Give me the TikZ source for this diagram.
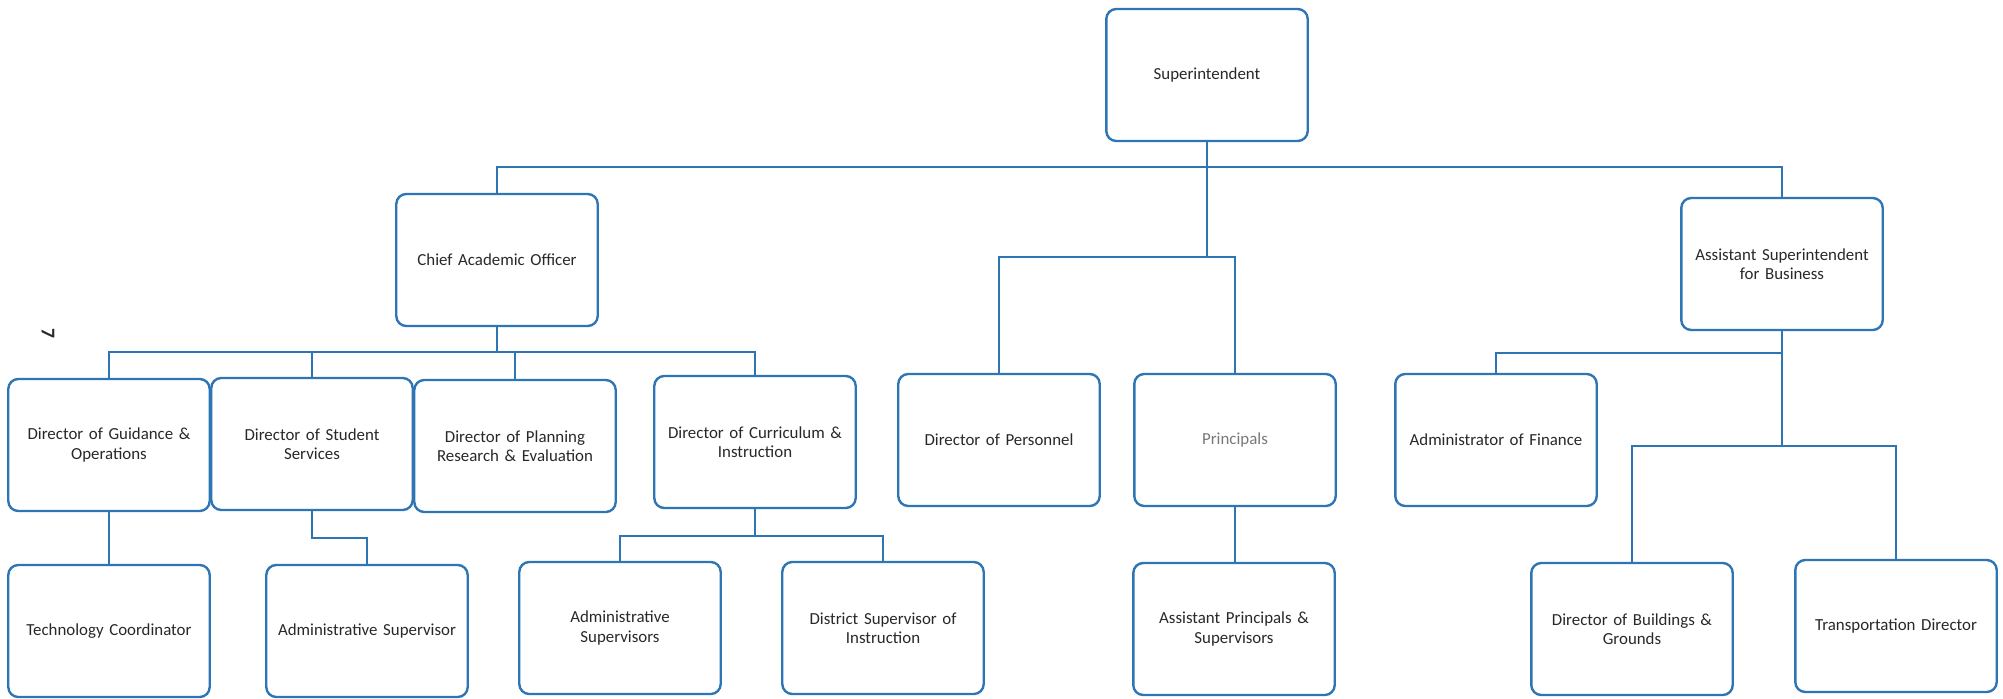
\documentclass[tikz,border=0pt]{standalone}
\usepackage{fontspec}
\setmainfont{Carlito}
\usepackage{tikz}

\definecolor{lineblue}{RGB}{46,117,182}
\definecolor{textgray}{RGB}{40,40,40}
\definecolor{lightgray}{RGB}{120,120,120}

\tikzset{
	post/.style={rectangle, rounded corners=2.5mm, draw=lineblue, line width=1.7pt,
		minimum width=4.95cm, minimum height=3.3cm, align=center, text width=4.8cm,
		text=textgray, font=\fontsize{12}{13.8}\selectfont},
	link/.style={draw=lineblue, line width=1.6pt}
}

\begin{document}
\begin{tikzpicture}[
			x=0.025cm, y=-0.025cm
			]
			\useasboundingbox (0,0) rectangle (2003,698);
			
			% Top level
			\node[post] (super) at (1207,75) {Superintendent};
			
			% Second level
			\node[post] (cao) at (497,260) {Chief Academic Officer};
			\node[post] (asb) at (1782,264) {Assistant Superintendent\\for Business};
			
			% Third level
			\node[post] (guid) at (109,445) {Director of Guidance \&\\Operations};
			\node[post] (stud) at (312,444) {Director of Student\\Services};
			\node[post] (plan) at (515,446) {Director of Planning\\Research \& Evaluation};
			\node[post] (curr) at (755,442) {Director of Curriculum \&\\Instruction};
			\node[post] (pers) at (999,440) {Director of Personnel};
			\node[post, text=lightgray] (prin) at (1235,440) {Principals};
			\node[post] (fin) at (1496,440) {Administrator of Finance};
			
			% Fourth level
			\node[post] (tech) at (109,631) {Technology Coordinator};
			\node[post] (adms) at (367,631) {Administrative Supervisor};
			\node[post] (admss) at (620,628) {Administrative\\Supervisors};
			\node[post] (dist) at (883,628) {District Supervisor of\\Instruction};
			\node[post] (asstp) at (1234,629) {Assistant Principals \&\\Supervisors};
			\node[post] (build) at (1632,629) {Director of Buildings \&\\Grounds};
			\node[post] (trans) at (1896,626) {Transportation Director};
			
			% Margin mark
			\node[rotate=-90, font=\fontsize{14}{14}\selectfont\bfseries, text=textgray] (mark) at (48,333) {7};
			
			% Superintendent links
			\draw[link] (cao.north) -- ++(0,-26) -| (asb.north);
			\draw[link] (super.south) -- ++(0,115) coordinate (pj);
			\draw[link] (pers.north) |- (pj) -| (prin.north);
			
			% Academic branch
			\draw[link] (cao.south) -- ++(0,25) coordinate (cj);
			\draw[link] (guid.north) |- (cj) -| (curr.north);
			\draw[link] (stud.north) -- (stud.north |- cj);
			\draw[link] (plan.north) -- (plan.north |- cj);
			\draw[link] (guid.south) -- (tech.north);
			\draw[link] (stud.south) -- ++(0,27) -| (adms.north);
			\draw[link] (curr.south) -- ++(0,27) coordinate (uj);
			\draw[link] (admss.north) |- (uj) -| (dist.north);
			\draw[link] (prin.south) -- (prin.south |- asstp.north);
			
			% Business branch
			\draw[link] (asb.south) -- ++(0,22) coordinate (aj);
			\draw[link] (fin.north) |- (aj);
			\draw[link] (aj) -- ++(0,93) coordinate (bj);
			\draw[link] (build.north) |- (bj) -| (trans.north);
		\end{tikzpicture}
\end{document}
